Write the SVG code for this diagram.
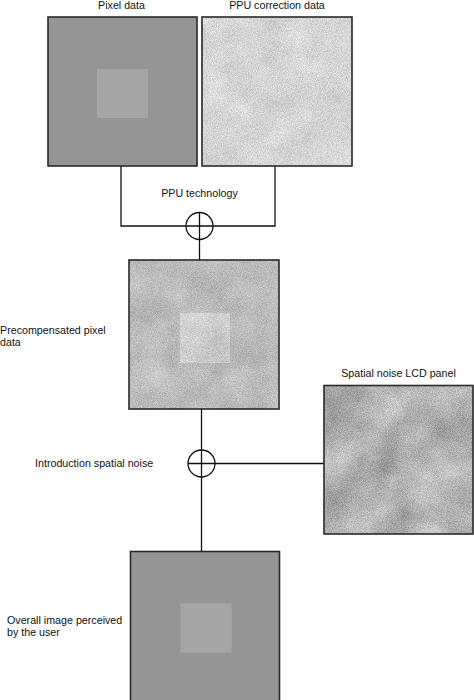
<svg xmlns="http://www.w3.org/2000/svg" width="474" height="700" viewBox="0 0 474 700">
<style>
.lbl{font-family:"Liberation Sans",Arial,sans-serif;font-size:10.7px;fill:#111}
.mid{text-anchor:middle}
.frame{stroke:#2a2a2a;stroke-width:1.6}
.wire{fill:none;stroke:#111;stroke-width:1.3}
</style>
<defs>
<filter id="nPPU" x="0" y="0" width="1" height="1" color-interpolation-filters="sRGB">
<feTurbulence type="fractalNoise" baseFrequency="1.2" numOctaves="2" seed="3" result="t1"/>
<feColorMatrix in="t1" type="matrix" values="1 0 0 0 0 1 0 0 0 0 1 0 0 0 0 0 0 0 0 1" result="f"/>
<feTurbulence type="fractalNoise" baseFrequency="0.035" numOctaves="3" seed="7" result="t2"/>
<feColorMatrix in="t2" type="matrix" values="1 0 0 0 0 1 0 0 0 0 1 0 0 0 0 0 0 0 0 1" result="c"/>
<feComposite in="f" in2="c" operator="arithmetic" k1="0" k2="0.3" k3="0.12" k4="0" result="n"/>
<feComposite in="SourceGraphic" in2="n" operator="arithmetic" k1="0" k2="1" k3="1" k4="-0.21" result="m"/>
<feComposite in="m" in2="SourceGraphic" operator="in"/>
</filter>
<filter id="nPre" x="0" y="0" width="1" height="1" color-interpolation-filters="sRGB">
<feTurbulence type="fractalNoise" baseFrequency="1.2" numOctaves="2" seed="11" result="t1"/>
<feColorMatrix in="t1" type="matrix" values="1 0 0 0 0 1 0 0 0 0 1 0 0 0 0 0 0 0 0 1" result="f"/>
<feTurbulence type="fractalNoise" baseFrequency="0.03" numOctaves="3" seed="2" result="t2"/>
<feColorMatrix in="t2" type="matrix" values="1 0 0 0 0 1 0 0 0 0 1 0 0 0 0 0 0 0 0 1" result="c"/>
<feComposite in="f" in2="c" operator="arithmetic" k1="0" k2="0.28" k3="0.16" k4="0" result="n"/>
<feComposite in="SourceGraphic" in2="n" operator="arithmetic" k1="0" k2="1" k3="1" k4="-0.22" result="m"/>
<feComposite in="m" in2="SourceGraphic" operator="in"/>
</filter>
<filter id="nLCD" x="0" y="0" width="1" height="1" color-interpolation-filters="sRGB">
<feTurbulence type="fractalNoise" baseFrequency="1.2" numOctaves="2" seed="5" result="t1"/>
<feColorMatrix in="t1" type="matrix" values="1 0 0 0 0 1 0 0 0 0 1 0 0 0 0 0 0 0 0 1" result="f"/>
<feTurbulence type="fractalNoise" baseFrequency="0.022" numOctaves="3" seed="9" result="t2"/>
<feColorMatrix in="t2" type="matrix" values="1 0 0 0 0 1 0 0 0 0 1 0 0 0 0 0 0 0 0 1" result="c"/>
<feComposite in="f" in2="c" operator="arithmetic" k1="0" k2="0.34" k3="0.34" k4="0" result="n"/>
<feComposite in="SourceGraphic" in2="n" operator="arithmetic" k1="0" k2="1" k3="1" k4="-0.34" result="m"/>
<feComposite in="m" in2="SourceGraphic" operator="in"/>
</filter>
</defs>

<g id="connectors">
<path class="wire" d="M121,166 V226 H275 V166"/>
<path class="wire" d="M199.5,212.5 V260"/>
<circle class="wire" cx="199.5" cy="226" r="13.5"/>
<path class="wire" d="M201.5,409 V551"/>
<path class="wire" d="M188,463.5 H324"/>
<circle class="wire" cx="201.5" cy="463.5" r="13.5"/>
</g>

<g id="pixel-data">
<rect x="48" y="17" width="149" height="149" fill="#959595" class="frame"/>
<rect x="97" y="69" width="51" height="49" fill="#a6a6a6"/>
<text class="lbl mid" x="121.5" y="9">Pixel data</text>
</g>

<g id="ppu-correction-data">
<g filter="url(#nPPU)">
<rect x="202" y="17" width="150" height="149" fill="#d5d5d5"/>
</g>
<rect x="202" y="17" width="150" height="149" fill="none" class="frame"/>
<text class="lbl mid" x="277" y="9">PPU correction data</text>
</g>

<g id="ppu-technology">
<text class="lbl mid" x="199.5" y="196.5">PPU technology</text>
</g>

<g id="precompensated">
<g filter="url(#nPre)">
<rect x="129" y="260" width="150" height="149" fill="#bbbbbb"/>
<rect x="180" y="313" width="50" height="50" fill="#d0d0d0"/>
</g>
<rect x="129" y="260" width="150" height="149" fill="none" class="frame"/>
<text class="lbl" x="0" y="333.7">Precompensated pixel</text>
<text class="lbl" x="0" y="346.2">data</text>
</g>

<g id="spatial-noise-lcd">
<g filter="url(#nLCD)">
<rect x="324" y="385.5" width="149" height="148.5" fill="#b2b2b2"/>
</g>
<rect x="324" y="385.5" width="149" height="148.5" fill="none" class="frame"/>
<text class="lbl mid" x="398.5" y="377.3">Spatial noise LCD panel</text>
</g>

<g id="introduction-spatial-noise">
<text class="lbl" x="35" y="466.8">Introduction spatial noise</text>
</g>

<g id="overall-image">
<rect x="130.5" y="551.5" width="149" height="152" fill="#959595" class="frame"/>
<rect x="180.5" y="603.5" width="51" height="49" fill="#a6a6a6"/>
<text class="lbl" x="7" y="623.8">Overall image perceived</text>
<text class="lbl" x="7" y="636.4">by the user</text>
</g>
</svg>
